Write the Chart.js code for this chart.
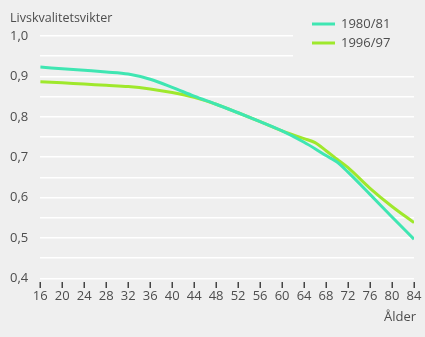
<!DOCTYPE html>
<html><head><meta charset="utf-8">
<script src="https://cdn.jsdelivr.net/npm/chart.js@4/dist/chart.umd.min.js"></script>
<style>
html,body{margin:0;padding:0;background:#efefef;}
#wrap{width:425px;height:337px;}
</style></head>
<body><div id="wrap"><canvas id="c" width="425" height="337"></canvas></div>
<script>
const ages = [16,20,24,28,32,36,40,44,48,52,56,60,64,66,68,70,72,76,80,84];
const s1980 = [0.923,0.919,0.915,0.911,0.906,0.893,0.873,0.851,0.831,0.810,0.788,0.765,0.737,0.721,0.704,0.688,0.663,0.608,0.552,0.497];
const s1996 = [0.887,0.884,0.881,0.878,0.875,0.869,0.860,0.848,0.831,0.810,0.788,0.765,0.746,0.736,0.716,0.695,0.674,0.623,0.578,0.538];
const xTickValues = [16,20,24,28,32,36,40,44,48,52,56,60,64,68,72,76,80,84];
const seriesNames = ['1980/81','1996/97'];
const colors = ['#3fe6b2','#9fe82c'];
const yTitle = 'Livskvalitetsvikter';
const xTitle = 'Ålder';
const FONT = '"Open Sans", sans-serif';
const TXT = '#4d4d4d';

const overlay = {
  id:'overlay',
  afterDraw(chart){
    const ctx = chart.ctx, ca = chart.chartArea, xs = chart.scales.x;
    ctx.save();
    ctx.fillStyle = '#444444';
    xTickValues.forEach(v=>{
      const px = Math.round(xs.getPixelForValue(v));
      ctx.fillRect(px-0.5, Math.round(ca.bottom)+4, 1.5, 6);
    });
    ctx.fillStyle = TXT;
    ctx.font = '12.5px '+FONT;
    ctx.textBaseline = 'alphabetic';
    ctx.textAlign = 'left';
    ctx.fillText(yTitle, 10, 22);
    ctx.textAlign = 'right';
    ctx.font = '13px '+FONT;
    ctx.fillText(xTitle, ca.right+2, 321);
    ctx.fillStyle = '#efefef';
    ctx.fillRect(293, 28, 130, 34);
    ctx.font = '13px '+FONT;
    ctx.textAlign = 'left';
    ctx.textBaseline = 'middle';
    seriesNames.forEach((n,i)=>{
      const y = 24 + i*19;
      ctx.strokeStyle = colors[i]; ctx.lineWidth = 3;
      ctx.beginPath(); ctx.moveTo(312,y); ctx.lineTo(335,y); ctx.stroke();
      ctx.fillStyle = TXT;
      ctx.fillText(n, 341, y);
    });
    ctx.restore();
  }
};

new Chart(document.getElementById('c'), {
  type:'line',
  data:{
    datasets:[
      {label:seriesNames[0], data: ages.map((a,i)=>({x:a,y:s1980[i]})), borderColor:colors[0], borderWidth:3, pointRadius:0, cubicInterpolationMode:'monotone', fill:false},
      {label:seriesNames[1], data: ages.map((a,i)=>({x:a,y:s1996[i]})), borderColor:colors[1], borderWidth:3, pointRadius:0, cubicInterpolationMode:'monotone', fill:false}
    ]
  },
  options:{
    responsive:false, animation:false,
    layout:{padding:{left:10,right:11,top:36,bottom:32}},
    plugins:{legend:{display:false}, tooltip:{enabled:false}},
    scales:{
      x:{type:'linear', min:16, max:84,
        ticks:{stepSize:4, color:TXT, font:{family:FONT,size:13}, padding:1, maxRotation:0, autoSkip:false},
        grid:{display:false, tickLength:9},
        border:{display:false}},
      y:{min:0.4, max:1.0,
        ticks:{stepSize:0.05, color:TXT, font:{family:FONT,size:13}, padding:6, crossAlign:'far',
          callback:(v)=>{const r=Math.round(v*100); return r%10===0 ? (r/100).toFixed(1).replace('.',',') : '';}},
        grid:{color:'#ffffff', lineWidth:1.5, drawTicks:false}, border:{display:false}}
    }
  },
  plugins:[overlay]
});
</script></body></html>
